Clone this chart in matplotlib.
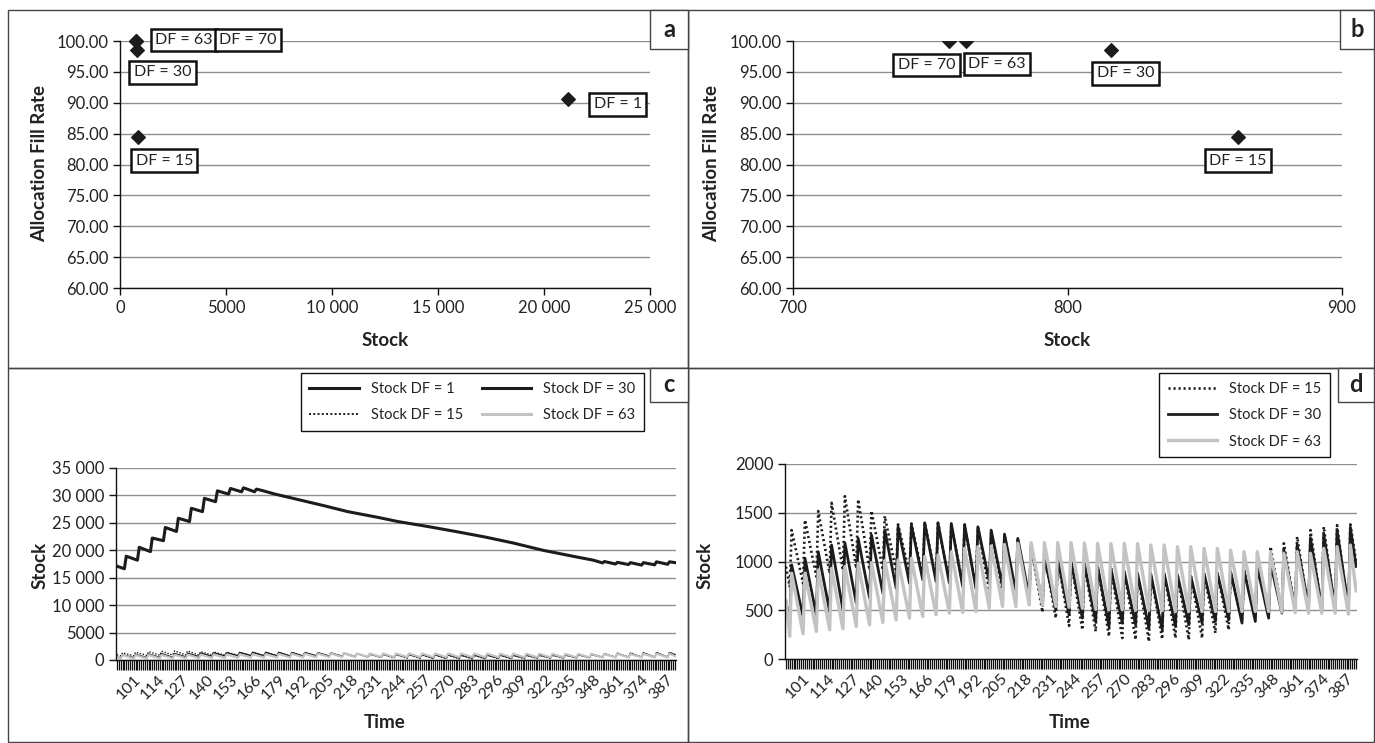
import numpy as np
import matplotlib
matplotlib.use("Agg")
import matplotlib.pyplot as plt
from matplotlib.patches import Rectangle
from matplotlib.ticker import FuncFormatter

plt.rcParams["font.family"] = ["Lato", "DejaVu Sans"]
plt.rcParams["text.color"] = "#222222"

# ---- panel a / b : fill rate vs stock ----
df_labels = ["DF = 1", "DF = 15", "DF = 30", "DF = 63", "DF = 70"]
stock_avg = [21130, 862, 816, 763, 757]
fill_rate = [90.6, 84.5, 98.5, 100.0, 100.0]

# ---- panel c / d : stock over time ----
time_first, time_last = 92, 392
tick_labels = list(range(101, 388, 13))

df1_time = [92, 96, 97, 103, 104, 110, 111, 117, 118, 124, 125, 131, 132, 138, 139, 145,
            146, 152, 153, 159, 160, 166, 167, 170, 177, 189, 204, 216, 232, 243, 259, 274,
            290, 305, 321, 337, 348, 353, 354, 360, 361, 367, 368, 374, 375, 381, 382, 388,
            389, 392]
df1_stock = [17100, 16630, 18920, 18200, 20540, 19760, 22230, 21750, 24160, 23430, 25840,
             25240, 27650, 27050, 29460, 28860, 30840, 30240, 31270, 30660, 31390, 30660,
             31150, 30900, 30240, 29280, 28070, 27050, 26020, 25240, 24340, 23430, 22410,
             21330, 20000, 18920, 18200, 17700, 17950, 17500, 17800, 17400, 17750, 17300,
             17750, 17350, 17900, 17450, 17900, 17750]

# weekly saw-tooth: value at t=92, t=94, then peak / low of each week
start15 = [947, 743]
peak15 = [1322, 1425, 1517, 1602, 1670, 1636, 1520, 1466, 1380, 1390, 1400, 1395, 1385, 1375,
          1350, 1315, 1270, 1220, 1150, 1080, 1030, 1000, 975, 950, 930, 905, 885, 875, 880,
          870, 860, 875, 880, 895, 915, 960, 1152, 1186, 1254, 1322, 1356, 1373, 1380]
low15 = [777, 845, 879, 913, 930, 913, 913, 896, 879, 850, 820, 790, 760, 730, 700, 660, 620,
         560, 480, 420, 340, 300, 283, 232, 215, 198, 180, 204, 215, 198, 215, 266, 300, 385,
         440, 470, 490, 500, 500, 490, 480, 480, 1000]

start30 = [590, 368]
peak30 = [965, 1033, 1100, 1169, 1193, 1237, 1271, 1322, 1356, 1373, 1397, 1397, 1390, 1380,
          1356, 1322, 1281, 1237, 1150, 1040, 1020, 1000, 980, 950, 930, 900, 880, 870, 880,
          865, 850, 880, 880, 895, 910, 945, 980, 1120, 1170, 1240, 1280, 1320, 1350]
low30 = [436, 453, 487, 504, 573, 624, 675, 726, 777, 811, 794, 777, 743, 720, 794, 743, 692,
         641, 573, 504, 453, 419, 385, 334, 368, 351, 317, 300, 334, 351, 368, 385, 402, 368,
         385, 419, 470, 504, 540, 520, 520, 530, 950]

start63 = [600, 232]
peak63 = [880, 880, 913, 930, 947, 981, 988, 1009, 1016, 1033, 1050, 1067, 1100, 1135, 1152,
          1160, 1175, 1186, 1193, 1193, 1193, 1193, 1190, 1186, 1183, 1186, 1183, 1169, 1169,
          1152, 1152, 1135, 1135, 1118, 1101, 1101, 1095, 1084, 1101, 1084, 1135, 1152, 1169]
low63 = [259, 283, 300, 310, 334, 351, 375, 402, 419, 436, 453, 470, 477, 487, 521, 538, 538,
         556, 556, 540, 530, 520, 510, 505, 505, 500, 500, 495, 487, 487, 487, 487, 487, 487,
         487, 487, 480, 475, 470, 470, 470, 460, 700]

W, H = 1375, 743
DARK = "#1c1c1c"
GREY = "#c3c3c3"
GRID = "#8f8f8f"
TICK_FS = 12
TITLE_FS = 13.5


def saw(start, peaks, lows):
    peak_t = np.arange(95, 390, 7)
    low_t = np.minimum(peak_t + 6, time_last)
    t = [time_first, 94] + list(np.ravel(np.column_stack([peak_t, low_t])))
    v = list(start) + list(np.ravel(np.column_stack([peaks, lows])))
    return t, v


def add_ax(left, top, right, bottom):
    return fig.add_axes([left / W, 1 - bottom / H, (right - left) / W, (bottom - top) / H])


def fmt_thousands(v, pos=None):
    if abs(v) >= 10000:
        return f"{v:,.0f}".replace(",", " ")
    return f"{v:.0f}"


def style_ax(ax):
    for s in ["top", "right"]:
        ax.spines[s].set_visible(False)
    for s in ["left", "bottom"]:
        ax.spines[s].set_color("#111111")
        ax.spines[s].set_linewidth(1.0)
    ax.yaxis.grid(True, color=GRID, lw=1.0)
    ax.set_axisbelow(True)
    ax.tick_params(direction="out", length=5, width=1, colors="#111111",
                   labelsize=TICK_FS, labelcolor="#222222")


fig = plt.figure(figsize=(W / 100, H / 100), dpi=100)

# panel frames and letter boxes
for (l, t, r, b) in [(8, 10, 688, 368), (688, 10, 1374, 368), (8, 368, 688, 742), (688, 368, 1374, 742)]:
    fig.patches.append(Rectangle((l / W, 1 - b / H), (r - l) / W, (b - t) / H, transform=fig.transFigure,
                                 fill=False, ec="#444444", lw=1.0))
for letter, (l, t, r, b) in zip("abcd", [(650, 10, 688, 49), (1340, 10, 1374, 49),
                                         (650, 368, 688, 402), (1338, 368, 1374, 402)]):
    fig.patches.append(Rectangle((l / W, 1 - b / H), (r - l) / W, (b - t) / H, transform=fig.transFigure,
                                 fill=True, fc="white", ec="#444444", lw=1.0, zorder=5))
    fig.text((l + r) / 2 / W, 1 - (t + b) / 2 / H, letter, ha="center", va="center",
             fontsize=17, fontweight="bold", zorder=6)

box_style = dict(boxstyle="square,pad=0.28", fc="white", ec="#111111", lw=1.8)

# ---- a ----
ax_a = add_ax(120, 41, 650, 288)
style_ax(ax_a)
ax_a.scatter(stock_avg, fill_rate, marker="D", s=48, color=DARK, zorder=4, clip_on=False)
ax_a.set_xlim(0, 25000)
ax_a.set_ylim(60, 100)
ax_a.set_xticks(range(0, 25001, 5000))
ax_a.set_yticks(range(60, 101, 5))
ax_a.xaxis.set_major_formatter(FuncFormatter(fmt_thousands))
ax_a.yaxis.set_major_formatter(FuncFormatter(lambda v, p: f"{v:.2f}"))
offs_a = {"DF = 1": (50, -5), "DF = 15": (26, -24), "DF = 30": (25, -22),
          "DF = 63": (48, 1), "DF = 70": (112, 1)}
for lab, x, y in zip(df_labels, stock_avg, fill_rate):
    dx, dy = offs_a[lab]
    ax_a.annotate(lab, (x, y), xytext=(dx * 0.72, dy * 0.72),
                  textcoords="offset points", ha="center", va="center", fontsize=11.5,
                  bbox=box_style, zorder=6, annotation_clip=False)

# ---- b ----
ax_b = add_ax(793, 41, 1342, 288)
style_ax(ax_b)
ax_b.scatter(stock_avg, fill_rate, marker="D", s=48, color=DARK, zorder=4)
ax_b.set_xlim(700, 900)
ax_b.set_ylim(60, 100)
ax_b.set_xticks([700, 800, 900])
ax_b.set_yticks(range(60, 101, 5))
ax_b.yaxis.set_major_formatter(FuncFormatter(lambda v, p: f"{v:.2f}"))
offs_b = {"DF = 15": (0, -24), "DF = 30": (14, -23), "DF = 63": (31, -23), "DF = 70": (-23, -24)}
for lab, x, y in zip(df_labels, stock_avg, fill_rate):
    if lab not in offs_b:
        continue
    dx, dy = offs_b[lab]
    ax_b.annotate(lab, (x, y), xytext=(dx * 0.72, dy * 0.72),
                  textcoords="offset points", ha="center", va="center", fontsize=11.5,
                  bbox=box_style, zorder=6)

for x, y in [(40, 163), (712, 163)]:
    fig.text(x / W, 1 - y / H, "Allocation Fill Rate", rotation=90, ha="center", va="center",
             fontsize=TITLE_FS, fontweight="bold")
for x in [385, 1067]:
    fig.text(x / W, 1 - 341 / H, "Stock", ha="center", va="center", fontsize=TITLE_FS, fontweight="bold")

# ---- c / d ----
t15, v15 = saw(start15, peak15, low15)
t30, v30 = saw(start30, peak30, low30)
t63, v63 = saw(start63, peak63, low63)
categories = np.arange(time_first, time_last + 1)


def time_axis(ax):
    ax.set_xlim(time_first - 0.5, time_last + 0.5)
    ax.set_xticks(categories)
    ax.set_xticklabels([str(c) if c in tick_labels else "" for c in categories],
                       rotation=45, ha="right", rotation_mode="anchor")
    ax.tick_params(axis="x", length=7, width=0.9, pad=2, labelsize=11.5)


ax_c = add_ax(116, 468, 676, 660)
style_ax(ax_c)
l1, = ax_c.plot(df1_time, df1_stock, color=DARK, lw=2.2, label="Stock DF = 1")
l15, = ax_c.plot(t15, v15, color=DARK, lw=1.0, ls=(0, (1, 1.2)), label="Stock DF = 15")
l30, = ax_c.plot(t30, v30, color=DARK, lw=1.0, label="Stock DF = 30")
l63, = ax_c.plot(t63, v63, color=GREY, lw=1.6, label="Stock DF = 63")
ax_c.set_ylim(0, 35000)
ax_c.set_yticks(range(0, 35001, 5000))
ax_c.yaxis.set_major_formatter(FuncFormatter(fmt_thousands))
time_axis(ax_c)
h30 = plt.Line2D([], [], color=DARK, lw=2.2)
h63 = plt.Line2D([], [], color=GREY, lw=2.2)
h15 = plt.Line2D([], [], color=DARK, lw=1.4, ls=(0, (1, 1.2)))
fig.legend([l1, h15, h30, h63], ["Stock DF = 1", "Stock DF = 15", "Stock DF = 30", "Stock DF = 63"],
           ncol=2, loc="upper right", bbox_to_anchor=(644 / W, 1 - 373 / H), fontsize=10.5,
           frameon=True, fancybox=False, edgecolor="#111111", framealpha=1, handlelength=3.4,
           columnspacing=1.3, labelspacing=0.85, borderpad=0.6, borderaxespad=0)

ax_d = add_ax(785, 464, 1357, 659)
style_ax(ax_d)
d15, = ax_d.plot(t15, v15, color=DARK, lw=1.9, ls=(0, (0.8, 1.1)), label="Stock DF = 15")
d30, = ax_d.plot(t30, v30, color=DARK, lw=2.0, label="Stock DF = 30")
d63, = ax_d.plot(t63, v63, color=GREY, lw=2.4, label="Stock DF = 63")
ax_d.set_ylim(0, 2000)
ax_d.set_yticks(range(0, 2001, 500))
time_axis(ax_d)
fig.legend([d15, d30, d63], ["Stock DF = 15", "Stock DF = 30", "Stock DF = 63"],
           loc="upper right", bbox_to_anchor=(1330 / W, 1 - 373 / H), fontsize=10.5,
           frameon=True, fancybox=False, edgecolor="#111111", framealpha=1, handlelength=3.4,
           labelspacing=0.85, borderpad=0.6, borderaxespad=0)

for x in [40, 705]:
    fig.text(x / W, 1 - 565 / H, "Stock", rotation=90, ha="center", va="center",
             fontsize=TITLE_FS, fontweight="bold")
for x in [385, 1070]:
    fig.text(x / W, 1 - 723 / H, "Time", ha="center", va="center", fontsize=TITLE_FS, fontweight="bold")

fig.savefig("out.png", dpi=100)
